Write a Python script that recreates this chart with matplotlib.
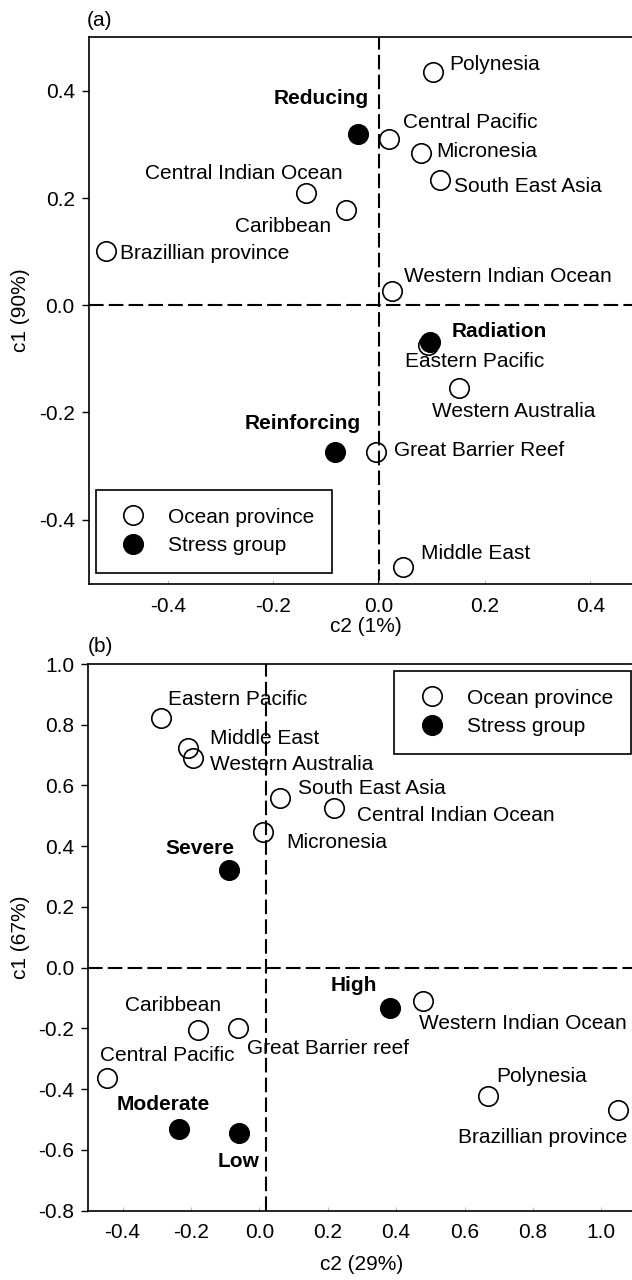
import matplotlib.pyplot as plt
from matplotlib.lines import Line2D

plt.rcParams['font.family'] = ['Liberation Sans', 'DejaVu Sans']
plt.rcParams['axes.unicode_minus'] = False
plt.rcParams['font.size'] = 15

# ---- panel (a): c2 (1%) / c1 (90%) ----
prov_a = ["Polynesia", "Central Pacific", "Micronesia", "South East Asia",
          "Central Indian Ocean", "Caribbean", "Brazillian province",
          "Western Indian Ocean", "Eastern Pacific", "Western Australia",
          "Great Barrier Reef", "Middle East"]
prov_a_c2 = [0.102, 0.018, 0.079, 0.115, -0.138, -0.063, -0.518,
             0.025, 0.092, 0.151, -0.005, 0.046]
prov_a_c1 = [0.436, 0.310, 0.285, 0.234, 0.209, 0.177, 0.102,
             0.027, -0.074, -0.155, -0.273, -0.488]
stress_a = ["Reducing", "Radiation", "Reinforcing"]
stress_a_c2 = [-0.040, 0.097, -0.084]
stress_a_c1 = [0.319, -0.069, -0.273]

# ---- panel (b): c2 (29%) / c1 (67%) ----
prov_b = ["Eastern Pacific", "Middle East", "Western Australia",
          "South East Asia", "Central Indian Ocean", "Micronesia",
          "Western Indian Ocean", "Caribbean", "Great Barrier reef",
          "Central Pacific", "Polynesia", "Brazillian province"]
prov_b_c2 = [-0.287, -0.208, -0.195, 0.061, 0.217, 0.011,
             0.479, -0.179, -0.062, -0.446, 0.668, 1.049]
prov_b_c1 = [0.823, 0.723, 0.692, 0.557, 0.527, 0.447,
             -0.110, -0.206, -0.200, -0.362, -0.424, -0.468]
stress_b = ["Severe", "High", "Moderate", "Low"]
stress_b_c2 = [-0.090, 0.381, -0.236, -0.059]
stress_b_c1 = [0.321, -0.132, -0.532, -0.546]

# label offsets from the point (pixels) and horizontal alignment
lab_a = {
    "Polynesia": (16, 7, "left"), "Central Pacific": (14, 17, "left"),
    "Micronesia": (15, 1, "left"), "South East Asia": (14, -7, "left"),
    "Central Indian Ocean": (36, 20, "right"), "Caribbean": (-15, -16, "right"),
    "Brazillian province": (14, -3, "left"), "Western Indian Ocean": (12, 14, "left"),
    "Eastern Pacific": (-23, -17, "left"), "Western Australia": (-27, -23, "left"),
    "Great Barrier Reef": (18, 1, "left"), "Middle East": (18, 13, "left"),
    "Reducing": (11, 36, "right"), "Radiation": (21, 11, "left"),
    "Reinforcing": (26, 28, "right"),
}
lab_b = {
    "Eastern Pacific": (7, 18, "left"), "Middle East": (22, 10, "left"),
    "Western Australia": (17, -7, "left"), "South East Asia": (18, 10, "left"),
    "Central Indian Ocean": (23, -8, "left"), "Micronesia": (23, -11, "left"),
    "Western Indian Ocean": (-4, -22, "left"), "Caribbean": (23, 25, "right"),
    "Great Barrier reef": (9, -20, "left"), "Central Pacific": (-7, 22, "left"),
    "Polynesia": (8, 20, "left"), "Brazillian province": (9, -28, "right"),
    "Severe": (6, 22, "right"), "High": (-13, 22, "right"),
    "Moderate": (31, 25, "right"), "Low": (20, -28, "right"),
}

ms = 14
open_style = dict(marker="o", ms=ms, mfc="none", mec="black", mew=1.2, ls="none")
fill_style = dict(marker="o", ms=ms, mfc="black", mec="black", mew=1.2, ls="none")


def draw_panel(ax, prov, pc2, pc1, stress, sc2, sc1, labels, vline):
    ax.axhline(0, color="black", lw=1.5, ls=(0, (7, 2.5)), zorder=1)
    ax.axvline(vline, color="black", lw=1.5, ls=(0, (7, 2.5)), zorder=1)
    ax.plot(pc2, pc1, zorder=3, **open_style)
    ax.plot(sc2, sc1, zorder=4, **fill_style)
    for name, x, y in zip(prov, pc2, pc1):
        dx, dy, ha = labels[name]
        ax.annotate(name, (x, y), xytext=(dx, dy), textcoords="offset pixels",
                    ha=ha, va="center", fontsize=15)
    for name, x, y in zip(stress, sc2, sc1):
        dx, dy, ha = labels[name]
        ax.annotate(name, (x, y), xytext=(dx, dy), textcoords="offset pixels",
                    ha=ha, va="center", fontsize=15, fontweight="bold")
    for s in ax.spines.values():
        s.set_linewidth(1.2)
    ax.tick_params(axis="y", direction="out", length=5, width=1.0, pad=5, labelsize=15)
    ax.tick_params(axis="x", direction="in", length=3, width=0.8, color="#bbbbbb",
                   pad=9, labelsize=15)


def add_legend(fig, x, y):
    handles = [Line2D([], [], **open_style), Line2D([], [], **fill_style)]
    leg = fig.legend(handles, ["Ocean province", "Stress group"], loc="upper left",
                     bbox_to_anchor=(x, y), bbox_transform=fig.transFigure,
                     borderaxespad=0, fontsize=15, frameon=True, fancybox=False,
                     borderpad=0.85, handlelength=1.9, handletextpad=0.75,
                     labelspacing=0.45, framealpha=1)
    leg.get_frame().set_edgecolor("black")
    leg.get_frame().set_linewidth(1.2)


fig = plt.figure(figsize=(6.32, 12.8), dpi=100)

ax_a = fig.add_axes([88.7 / 632, 1 - 584 / 1280, 1.05 * 528 / 632, 546.7 / 1280])
draw_panel(ax_a, prov_a, prov_a_c2, prov_a_c1, stress_a, stress_a_c2, stress_a_c1,
           lab_a, 0.0)
ax_a.set_xlim(-0.55, 0.5)
ax_a.set_ylim(-0.52, 0.5)
ax_a.set_xticks([-0.4, -0.2, 0.0, 0.2, 0.4])
ax_a.set_yticks([-0.4, -0.2, 0.0, 0.2, 0.4])
ax_a.set_xlabel("c2 (1%)", fontsize=15, labelpad=1)
ax_a.set_ylabel("c1 (90%)", fontsize=15, labelpad=6)

ax_b = fig.add_axes([88.3 / 632, 1 - 1210.5 / 1280, 1.6 * 342 / 632, 546.5 / 1280])
draw_panel(ax_b, prov_b, prov_b_c2, prov_b_c1, stress_b, stress_b_c2, stress_b_c1,
           lab_b, 0.02)
ax_b.set_xlim(-0.5, 1.1)
ax_b.set_ylim(-0.8, 1.0)
ax_b.set_xticks([-0.4, -0.2, 0.0, 0.2, 0.4, 0.6, 0.8, 1.0])
ax_b.set_yticks([-0.8, -0.6, -0.4, -0.2, 0.0, 0.2, 0.4, 0.6, 0.8, 1.0])
ax_b.set_xlabel("c2 (29%)", fontsize=15, labelpad=9)
ax_b.set_ylabel("c1 (67%)", fontsize=15, labelpad=6)

add_legend(fig, 95.5 / 632, 1 - 490 / 1280)
add_legend(fig, 394.3 / 632, 1 - 671 / 1280)

fig.text(86.7 / 632, 1 - 20 / 1280, "(a)", ha="left", va="center", fontsize=15)
fig.text(88 / 632, 1 - 647 / 1280, "(b)", ha="left", va="center", fontsize=15)

fig.savefig("out.png", dpi=100)
